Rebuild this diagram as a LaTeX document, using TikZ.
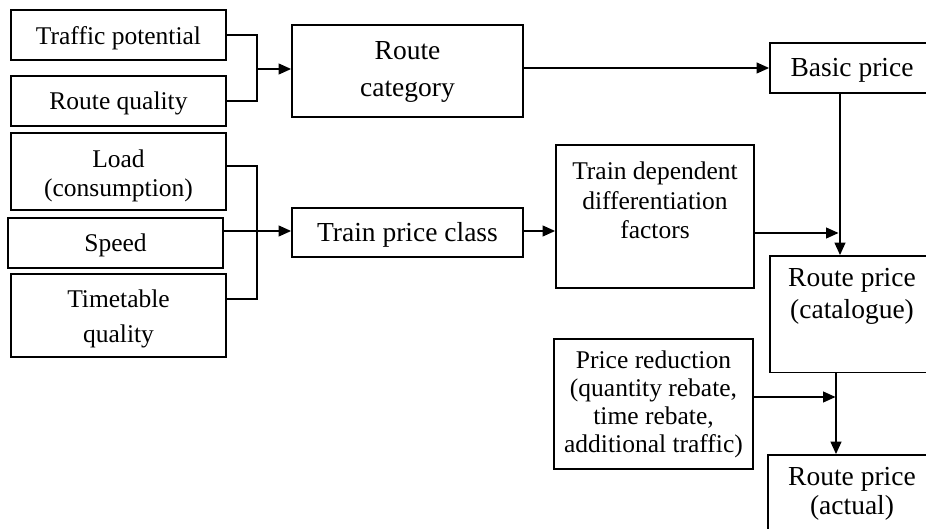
\documentclass[tikz,border=0pt]{standalone}
\usepackage{fontspec}
\setmainfont{Liberation Serif}
\usetikzlibrary{arrows.meta}

\tikzset{
  box/.style={draw, line width=1.9pt, inner sep=0pt},
  lbl/.style={anchor=base, inner sep=0pt, font=\fontsize{25.5}{30}\selectfont},
  lblbig/.style={anchor=base, inner sep=0pt, font=\fontsize{27.5}{33}\selectfont},
  conn/.style={line width=1.3pt},
  arr/.style={conn, -{Triangle[length=12.5pt,width=11pt]}},
}

\begin{document}
\begin{tikzpicture}[x=1pt,y=-1pt]
\useasboundingbox (0,0) rectangle (926,529);
\clip (0,0) rectangle (926,529);
\fill[white] (0,0) rectangle (926,529);

% input factors
\node[box, minimum width=215pt, minimum height=50pt] (tp) at (118.5,35) {};
\node[lbl] (tp-l1) at (118.5,45) {Traffic potential};
\node[box, minimum width=215pt, minimum height=50pt] (rq) at (118.5,101) {};
\node[lbl] (rq-l1) at (118.5,110) {Route quality};
\node[box, minimum width=215pt, minimum height=77pt] (load) at (118.5,171.5) {};
\node[lbl] (load-l1) at (118.5,168) {Load};
\node[lbl] (load-l2) at (118.5,197) {(consumption)};
\node[box, minimum width=215pt, minimum height=50pt] (speed) at (115.5,243) {};
\node[lbl] (speed-l1) at (115.5,252) {Speed};
\node[box, minimum width=215pt, minimum height=83pt] (tt) at (118.5,315.5) {};
\node[lbl] (tt-l1) at (118.5,308) {Timetable};
\node[lbl] (tt-l2) at (118.5,342) {quality};

% intermediate classes
\node[box, minimum width=231pt, minimum height=92pt] (rc) at (407.5,71) {};
\node[lblbig] (rc-l1) at (407.5,60) {Route};
\node[lblbig] (rc-l2) at (407.5,97) {category};
\node[box, minimum width=231pt, minimum height=49pt] (tpc) at (407.5,232.5) {};
\node[lblbig] (tpc-l1) at (407.5,241.7) {Train price class};
\node[box, minimum width=198pt, minimum height=143pt] (tdf) at (655,216.5) {};
\node[lbl] (tdf-l1) at (655,180) {Train dependent};
\node[lbl] (tdf-l2) at (655,210) {differentiation};
\node[lbl] (tdf-l3) at (655,239) {factors};
\node[box, minimum width=199pt, minimum height=130pt] (pr) at (653.5,404) {};
\node[lbl] (pr-l1) at (653.5,368) {Price reduction};
\node[lbl] (pr-l2) at (653.5,396.5) {(quantity rebate,};
\node[lbl] (pr-l3) at (653.5,424) {time rebate,};
\node[lbl] (pr-l4) at (653.5,452) {additional traffic)};

% prices
\node[box, minimum width=164pt, minimum height=50pt] (bp) at (852,68) {};
\node[lblbig] (bp-l1) at (852,77) {Basic price};
\node[box, minimum width=164pt, minimum height=116.5pt] (rpc) at (852,314.25) {};
\node[lblbig] (rpc-l1) at (852,287) {Route price};
\node[lblbig] (rpc-l2) at (852,318) {(catalogue)};
\node[box, minimum width=168pt, minimum height=105pt] (rpa) at (852,507.5) {};
\node[lblbig] (rpa-l1) at (852,485) {Route price};
\node[lblbig] (rpa-l2) at (852,514) {(actual)};

% junction points
\coordinate (jA) at (257,69);
\coordinate (jB) at (257,231);
\coordinate (jC) at (840,233);
\coordinate (jD) at (836,397);

% connectors
\draw[conn] (tp.east) -| (jA) |- (rq.east);
\draw[arr] (jA) -- (jA -| rc.west);
\draw[arr] (rc.east |- bp.west) -- (bp.west);

\draw[conn] ([yshift=5.5pt]load.east) -| (jB) |- ([yshift=16.5pt]tt.east);
\draw[arr] ([yshift=12pt]speed.east) -- (jB -| tpc.west);
\draw[arr] (jB -| tpc.east) -- (jB -| tdf.west);
\draw[arr, shorten >=1.5pt] (tdf.east |- jC) -- (jC);

\draw[arr] (bp.south -| jC) -- (rpc.north -| jC);
\draw[arr, shorten >=0.5pt] (pr.east |- jD) -- (jD);
\draw[arr] (rpc.south -| jD) -- (rpa.north -| jD);
\end{tikzpicture}
\end{document}
